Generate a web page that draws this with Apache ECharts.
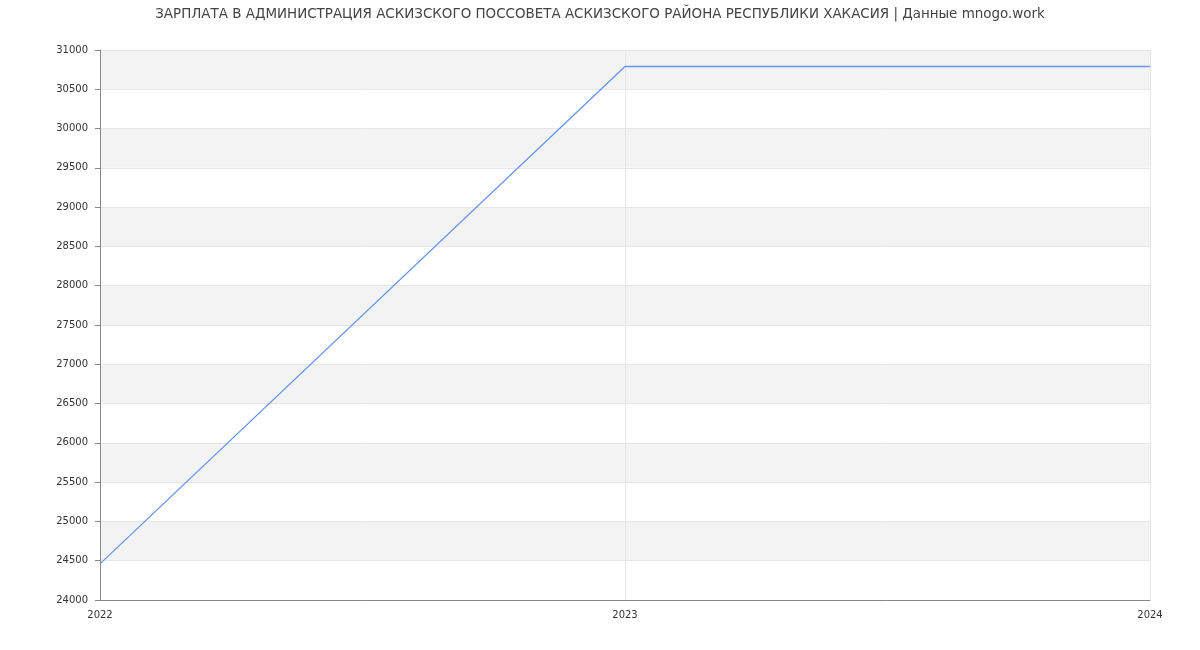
<!DOCTYPE html>
<html><head><meta charset="utf-8">
<script src="https://cdn.jsdelivr.net/npm/echarts@6/dist/echarts.min.js"></script>
<style>html,body{margin:0;padding:0;background:#fff}#c{width:1200px;height:650px}</style>
</head><body><div id="c"></div>
<script>
var titleText = 'ЗАРПЛАТА В АДМИНИСТРАЦИЯ АСКИЗСКОГО ПОССОВЕТА АСКИЗСКОГО РАЙОНА РЕСПУБЛИКИ ХАКАСИЯ | Данные mnogo.work';
var years = ['2022', '2023', '2024'];
var salary = [24460, 30790, 30790];

var chart = echarts.init(document.getElementById('c'));
chart.setOption({
  animation: false,
  title: {
    text: titleText, left: 'center', top: 3,
    textStyle: {fontFamily: 'DejaVu Sans', fontSize: 13.45, fontWeight: 'normal', color: '#444'}
  },
  grid: {left: 100, right: 50, top: 50, bottom: 50, containLabel: false},
  xAxis: {
    type: 'category', data: years, boundaryGap: false,
    axisLine: {lineStyle: {color: '#888'}},
    axisTick: {show: false},
    axisLabel: {fontFamily: 'DejaVu Sans', fontSize: 10, color: '#333', margin: 10},
    splitLine: {show: true, lineStyle: {color: '#e6e6e6'}}
  },
  yAxis: {
    type: 'value', min: 24000, max: 31000, interval: 500,
    axisLine: {show: true, lineStyle: {color: '#888'}},
    axisTick: {show: true, length: 5, lineStyle: {color: '#888'}},
    axisLabel: {fontFamily: 'DejaVu Sans', fontSize: 10, color: '#333', margin: 12,
      formatter: function (v) { return String(v); }},
    splitLine: {show: true, lineStyle: {color: '#e6e6e6'}},
    splitArea: {show: true, areaStyle: {color: ['#ffffff', '#f3f3f3']}}
  },
  series: [{
    type: 'line', data: salary, symbol: 'none',
    lineStyle: {color: '#6495ed', width: 1.3}
  }]
});
</script></body></html>
